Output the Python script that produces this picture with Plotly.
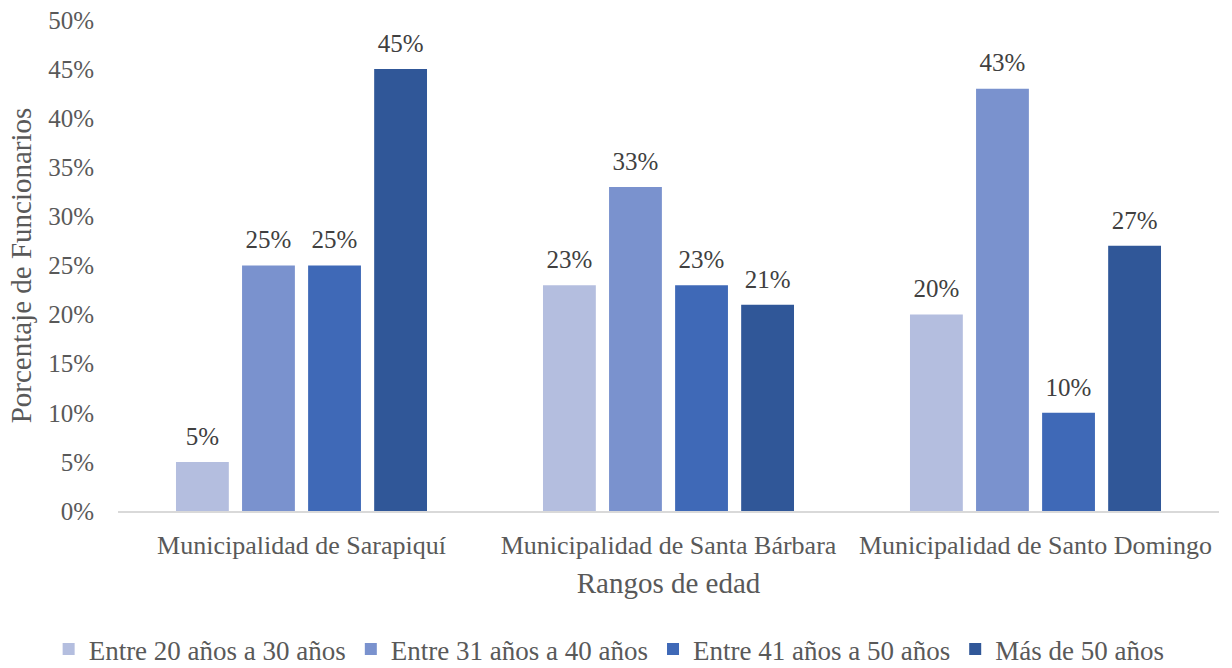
import plotly.graph_objects as go

categories = ["Municipalidad de Sarapiquí", "Municipalidad de Santa Bárbara", "Municipalidad de Santo Domingo"]
series_names = ["Entre 20 años a 30 años", "Entre 31 años a 40 años", "Entre 41 años a 50 años", "Más de 50 años"]
v_20_30 = [0.05, 0.23, 0.20]
v_31_40 = [0.25, 0.33, 0.43]
v_41_50 = [0.25, 0.23, 0.10]
v_50_mas = [0.45, 0.21, 0.27]
y_ticks = [0, 0.05, 0.10, 0.15, 0.20, 0.25, 0.30, 0.35, 0.40, 0.45, 0.50]

colors = ["#B4BEDF", "#7A92CE", "#3F69B7", "#305798"]
values = [v_20_30, v_31_40, v_41_50, v_50_mas]

FONT = "Liberation Serif, Times New Roman, serif"
TICK = "#595959"

fig = go.Figure()
for i, (name, vals, col) in enumerate(zip(series_names, values, colors)):
    fig.add_trace(go.Bar(
        x=categories, y=vals, name=name, offsetgroup=str(i),
        marker=dict(color=col, line=dict(width=0)),
    ))
for i, vals in enumerate(values):
    fig.add_trace(go.Scatter(
        x=categories, y=vals, offsetgroup=str(i), mode="markers+text",
        marker=dict(size=16, opacity=0),
        text=[f"{round(v*100)}%" for v in vals],
        textposition="top center",
        textfont=dict(family=FONT, size=25, color="#404040"),
        showlegend=False, hoverinfo="skip", cliponaxis=False,
    ))

fig.update_layout(
    width=1232, height=668,
    barmode="group", bargap=0.28, bargroupgap=0.2,
    scattermode="group", scattergap=0.28,
    paper_bgcolor="white", plot_bgcolor="white",
    margin=dict(l=118, r=13, t=20, b=157, autoexpand=False),
    font=dict(family=FONT, size=26, color=TICK),
    showlegend=True,
    legend=dict(orientation="h", x=-0.063, xanchor="left", y=-0.282, yanchor="middle",
                font=dict(family=FONT, size=27, color=TICK),
                itemwidth=30, traceorder="normal"),
    xaxis=dict(
        showline=True, linecolor="#D9D9D9", linewidth=1.5,
        ticks="", tickfont=dict(size=26, color=TICK),
        ticklabelstandoff=10, automargin=False,
        title=dict(text="Rangos de edad", font=dict(size=29, color=TICK), standoff=14),
    ),
    yaxis=dict(
        range=[0, 0.5], tickvals=y_ticks, tickformat=".0%",
        showgrid=False, zeroline=False, showline=False, ticks="",
        ticklabelstandoff=23, automargin=False,
        tickfont=dict(size=25, color=TICK),
        title=dict(text="Porcentaje de Funcionarios", font=dict(size=29, color=TICK), standoff=8),
    ),
)

fig.write_html("out.html", config={"displayModeBar": False},
               post_script="document.body.style.margin='0';document.body.style.overflow='hidden';")
